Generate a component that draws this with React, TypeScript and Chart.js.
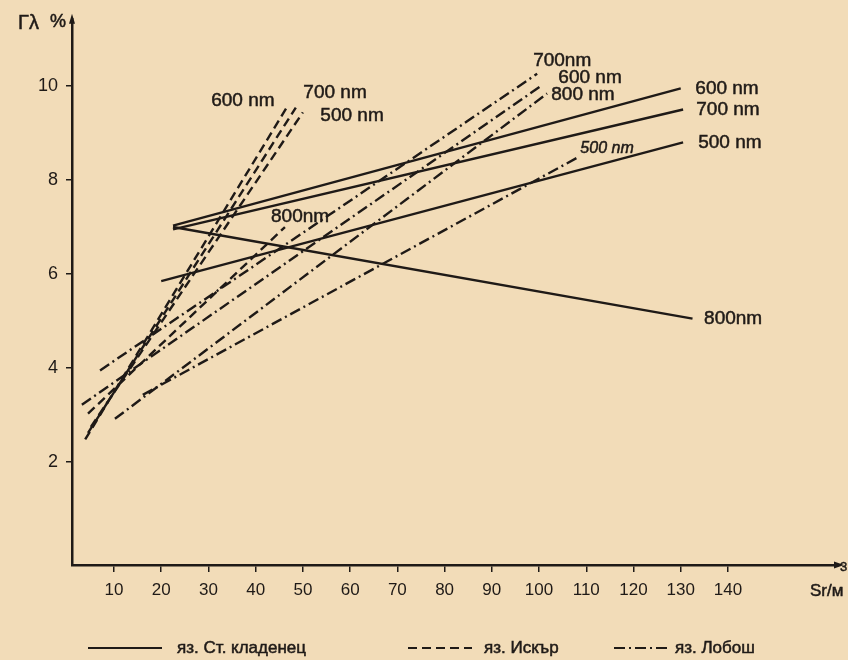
import React, { useEffect, useRef } from "react";
import { Chart, registerables } from "chart.js";

Chart.register(...registerables);

// ---------- data ----------
const LAKES = ["яз. Ст. кладенец", "яз. Искър", "яз. Лобош"];
const X_TICKS = [10, 20, 30, 40, 50, 60, 70, 80, 90, 100, 110, 120, 130, 140];
const Y_TICKS = [2, 4, 6, 8, 10];
const X_MIN = 1.11;
const X_MAX = 163.3;
const Y_MIN = -0.19;
const Y_MAX = 11.43;

// яз. Ст. кладенец (solid)
const KLADENETS_500_SR = [20, 130.5];
const KLADENETS_500_G = [5.85, 8.8];
const KLADENETS_600_SR = [22.5, 130];
const KLADENETS_600_G = [7.03, 9.95];
const KLADENETS_700_SR = [22.5, 130.5];
const KLADENETS_700_G = [6.95, 9.5];
const KLADENETS_800_SR = [22.5, 132.5];
const KLADENETS_800_G = [7.0, 5.05];

// яз. Искър (dashed)
const ISKAR_500_SR = [5.1, 50];
const ISKAR_500_G = [2.75, 9.44];
const ISKAR_600_SR = [3.9, 46.8];
const ISKAR_600_G = [2.48, 9.58];
const ISKAR_700_SR = [4.5, 48.5];
const ISKAR_700_G = [2.62, 9.54];
const ISKAR_800_SR = [4.5, 46.2];
const ISKAR_800_G = [3.03, 7.0];

// яз. Лобош (dash-dot)
const LOBOSH_500_SR = [16.1, 108];
const LOBOSH_500_G = [3.43, 8.47];
const LOBOSH_600_SR = [3.2, 100.4];
const LOBOSH_600_G = [3.22, 10.0];
const LOBOSH_700_SR = [7.05, 99.6];
const LOBOSH_700_G = [3.95, 10.26];
const LOBOSH_800_SR = [10.2, 101.7];
const LOBOSH_800_G = [2.92, 9.84];

// curve labels (anchored in data units)
const LABEL_TEXTS = ["600 nm", "700 nm", "500 nm", "800nm", "700nm", "600 nm", "800 nm", "500 nm", "600 nm", "700 nm", "500 nm", "800nm"];
const LABEL_SR = [37.3, 56.8, 60.4, 49.4, 104.9, 110.8, 109.3, 114.4, 139.8, 140.0, 140.4, 141.1];
const LABEL_G = [9.69, 9.86, 9.37, 7.21, 10.53, 10.17, 9.82, 8.66, 9.94, 9.5, 8.79, 5.04];
const LABEL_ITALIC = [false, false, false, false, false, false, false, true, false, false, false, false];

// ---------- styles ----------
const INK = "#1f1a17";
const BG = "#f2dcb8";
const FONT = "'Liberation Sans', Arial, sans-serif";
const DASH_SOLID: number[] = [];
const DASH_DASHED = [9, 5];
const DASH_DOTDASH = [11, 4, 2, 4];
const LAKE_DASH = [DASH_SOLID, DASH_DASHED, DASH_DOTDASH];

function series(sr: number[], g: number[], lake: number) {
  return {
    label: LAKES[lake],
    data: sr.map((x, i) => ({ x, y: g[i] })),
    showLine: true,
    borderColor: INK,
    backgroundColor: INK,
    borderWidth: 2.4,
    borderDash: LAKE_DASH[lake],
    pointRadius: 0,
    pointHoverRadius: 0,
    tension: 0,
  };
}

const datasets = [
  series(KLADENETS_500_SR, KLADENETS_500_G, 0),
  series(KLADENETS_600_SR, KLADENETS_600_G, 0),
  series(KLADENETS_700_SR, KLADENETS_700_G, 0),
  series(KLADENETS_800_SR, KLADENETS_800_G, 0),
  series(ISKAR_500_SR, ISKAR_500_G, 1),
  series(ISKAR_600_SR, ISKAR_600_G, 1),
  series(ISKAR_700_SR, ISKAR_700_G, 1),
  series(ISKAR_800_SR, ISKAR_800_G, 1),
  series(LOBOSH_500_SR, LOBOSH_500_G, 2),
  series(LOBOSH_600_SR, LOBOSH_600_G, 2),
  series(LOBOSH_700_SR, LOBOSH_700_G, 2),
  series(LOBOSH_800_SR, LOBOSH_800_G, 2),
];

function inkText(ctx: CanvasRenderingContext2D, t: string, x: number, y: number) {
  ctx.lineWidth = 0.5;
  ctx.strokeText(t, x, y);
  ctx.fillText(t, x, y);
}

const paperPlugin = {
  id: "paper",
  beforeDraw(chart: any) {
    const ctx = chart.ctx;
    ctx.save();
    ctx.fillStyle = BG;
    ctx.fillRect(0, 0, chart.width, chart.height);
    ctx.restore();
  },
  afterDraw(chart: any) {
    const { ctx, chartArea, scales } = chart;
    const xs = scales.x;
    const ys = scales.y;
    ctx.save();
    ctx.fillStyle = INK;
    ctx.strokeStyle = INK;

    // arrow heads
    const ax = chartArea.left;
    const ay = chartArea.bottom;
    ctx.beginPath();
    ctx.moveTo(ax, chartArea.top - 5);
    ctx.lineTo(ax - 3, chartArea.top + 5);
    ctx.lineTo(ax + 3, chartArea.top + 5);
    ctx.closePath();
    ctx.fill();
    ctx.beginPath();
    ctx.moveTo(chartArea.right + 6, ay);
    ctx.lineTo(chartArea.right - 4, ay - 3.5);
    ctx.lineTo(chartArea.right - 4, ay + 3.5);
    ctx.closePath();
    ctx.fill();

    // axis titles
    ctx.textBaseline = "middle";
    ctx.textAlign = "left";
    ctx.font = `20px ${FONT}`;
    inkText(ctx, "Γλ", 18, 23);
    ctx.font = `18px ${FONT}`;
    inkText(ctx, "%", 50, 22);
    ctx.font = `17px ${FONT}`;
    inkText(ctx, "Sr/м", 810, 591);
    ctx.font = `13px ${FONT}`;
    inkText(ctx, "3", 840, 567);

    // curve labels
    ctx.textAlign = "center";
    LABEL_TEXTS.forEach((t, i) => {
      ctx.font = LABEL_ITALIC[i] ? `italic 16px ${FONT}` : `19px ${FONT}`;
      inkText(ctx, t, xs.getPixelForValue(LABEL_SR[i]), ys.getPixelForValue(LABEL_G[i]));
    });

    // legend
    const ly = 648;
    const samples = [
      { x0: 88, x1: 162, tx: 177 },
      { x0: 408, x1: 472, tx: 484 },
      { x0: 614, x1: 668, tx: 675 },
    ];
    ctx.textAlign = "left";
    ctx.font = `17px ${FONT}`;
    samples.forEach((s, i) => {
      ctx.lineWidth = 2.2;
      ctx.setLineDash(LAKE_DASH[i]);
      ctx.beginPath();
      ctx.moveTo(s.x0, ly);
      ctx.lineTo(s.x1, ly);
      ctx.stroke();
      ctx.setLineDash([]);
      inkText(ctx, LAKES[i], s.tx, ly);
    });
    ctx.restore();
  },
};

export default function App() {
  const ref = useRef<HTMLCanvasElement>(null);
  useEffect(() => {
    const canvas = ref.current;
    if (!canvas) return;
    const chart = new Chart(canvas, {
      type: "scatter",
      data: { datasets: datasets as any },
      options: {
        responsive: false,
        animation: false,
        devicePixelRatio: 1,
        layout: { padding: { left: 0, top: 12, right: 10, bottom: 0 } },
        plugins: { legend: { display: false }, tooltip: { enabled: false } },
        scales: {
          x: {
            type: "linear",
            min: X_MIN,
            max: X_MAX,
            afterBuildTicks: (s: any) => {
              s.ticks = X_TICKS.map((v) => ({ value: v }));
            },
            afterFit: (s: any) => {
              s.height = 95;
            },
            grid: { display: true, drawOnChartArea: false, drawTicks: true, tickLength: 7, color: INK, lineWidth: 1.5 },
            border: { display: true, color: INK, width: 2.5 },
            ticks: {
              color: INK,
              font: { family: FONT, size: 17 },
              padding: 8,
              maxRotation: 0,
              autoSkip: false,
              callback: (v: any) => String(v),
            },
          },
          y: {
            type: "linear",
            min: Y_MIN,
            max: Y_MAX,
            afterBuildTicks: (s: any) => {
              s.ticks = Y_TICKS.map((v) => ({ value: v }));
            },
            afterFit: (s: any) => {
              s.width = 72;
            },
            grid: { display: true, drawOnChartArea: false, drawTicks: true, tickLength: 6, color: INK, lineWidth: 1.5 },
            border: { display: true, color: INK, width: 2.5 },
            ticks: {
              color: INK,
              font: { family: FONT, size: 18 },
              padding: 8,
              autoSkip: false,
              callback: (v: any) => String(v),
            },
          },
        },
      },
      plugins: [paperPlugin],
    });
    return () => chart.destroy();
  }, []);
  return (
    <div style={{ position: "fixed", left: 0, top: 0, width: 848, height: 660, background: BG }}>
      <canvas ref={ref} width={848} height={660} style={{ display: "block" }} />
    </div>
  );
}
